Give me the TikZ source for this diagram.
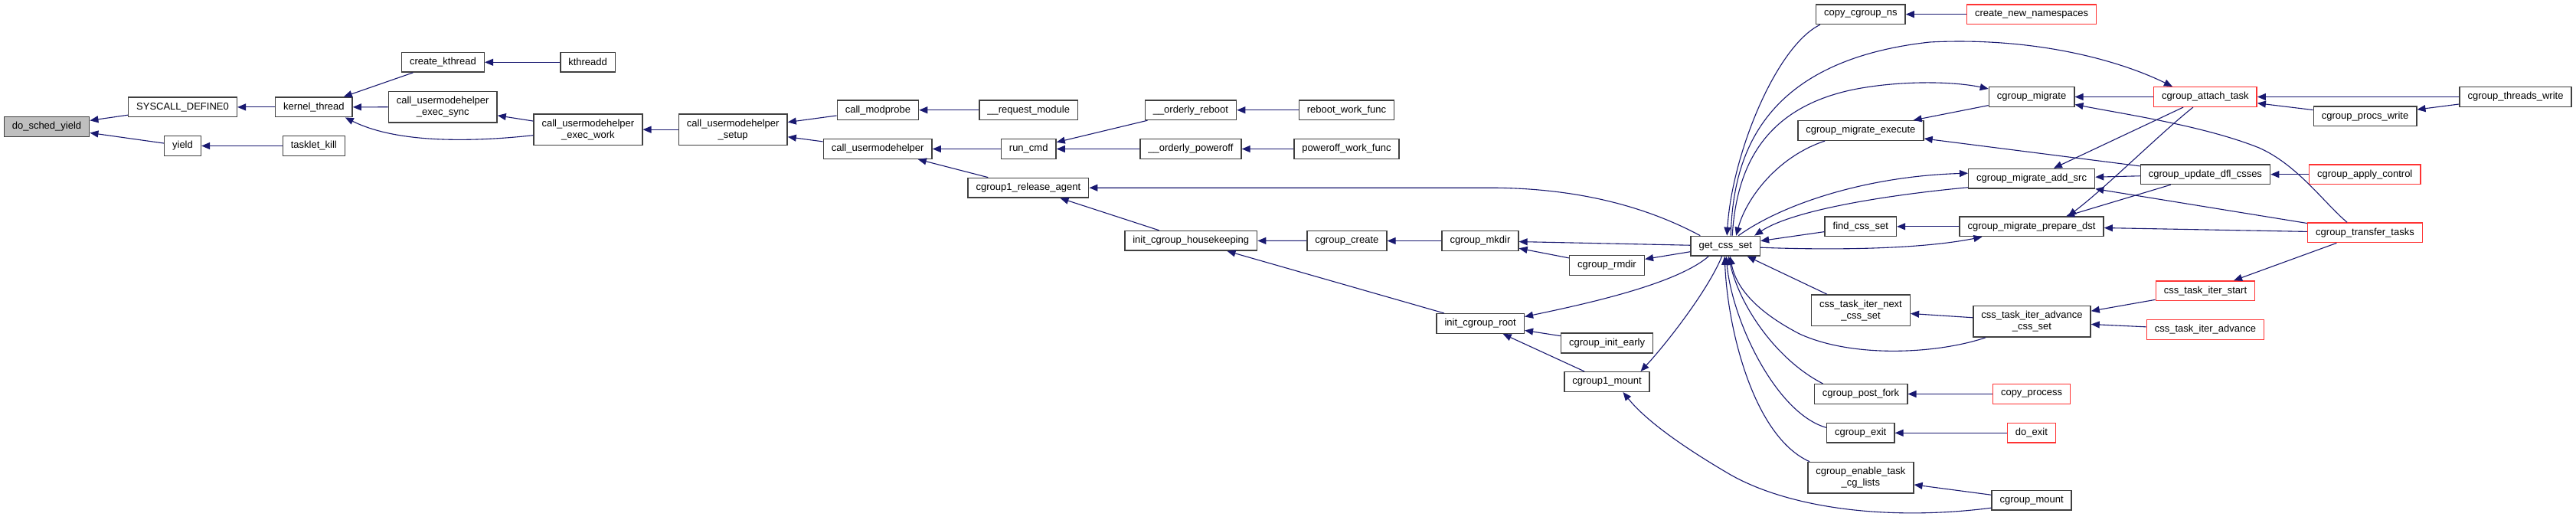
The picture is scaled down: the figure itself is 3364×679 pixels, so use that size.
\documentclass[tikz,border=0pt]{standalone}
\usepackage{fontspec}
\setmainfont{Liberation Sans}
\usepackage{tikz}
\usetikzlibrary{arrows.meta}
\definecolor{dxblue}{HTML}{191970}
\definecolor{dxred}{HTML}{FF3333}
\definecolor{dxgrey}{HTML}{404040}
\tikzset{
  fn/.style={draw=dxgrey, line width=1.5pt, fill=white, minimum height=25.6pt,
    inner xsep=10.5pt, inner ysep=3pt, align=center},
  fntwo/.style={fn, minimum height=40.5pt},
  fnred/.style={fn, draw=dxred},
  fnroot/.style={fn, fill=black!25},
  call/.style={draw=dxblue, line width=1.1pt, -{Triangle[length=11pt,width=9pt]}}
}

\begin{document}
\begin{tikzpicture}[x=1pt, y=-1pt, font=\fontsize{13}{15}\selectfont]
  \fill[white] (0,0) rectangle (3364,679);
  \useasboundingbox (0,0) rectangle (3364,679);

  \node[fnroot] (dsy) at (61,165.5) {do\_sched\_yield};
  \node[fn] (sysdef) at (238.5,139.9) {SYSCALL\_DEFINE0};
  \node[fn] (yield) at (238.5,190.5) {yield};
  \node[fn] (kthread) at (409.8,139.9) {kernel\_thread};
  \node[fn] (tkill) at (409.8,190.5) {tasklet\_kill};
  \node[fn] (ckthread) at (578.4,81.3) {create\_kthread};
  \node[fntwo] (esync) at (578.2,139.7) {call\_usermodehelper\\\_exec\_sync};
  \node[fn] (kthreadd) at (767.6,81.3) {kthreadd};
  \node[fntwo] (ework) at (767.9,169.2) {call\_usermodehelper\\\_exec\_work};
  \node[fntwo] (setup) at (957.2,169.2) {call\_usermodehelper\\\_setup};
  \node[fn] (modprobe) at (1146.4,143.7) {call\_modprobe};
  \node[fn] (reqmod) at (1343.2,143.7) {\_\_request\_module};
  \node[fn] (cuh) at (1146.2,194.5) {call\_usermodehelper};
  \node[fn] (runcmd) at (1343.2,194.5) {run\_cmd};
  \node[fn] (oreboot) at (1554.9,143.7) {\_\_orderly\_reboot};
  \node[fn] (opoweroff) at (1554.9,194.5) {\_\_orderly\_poweroff};
  \node[fn] (relagent) at (1342.9,245.2) {cgroup1\_release\_agent};
  \node[fn] (hkeep) at (1555.2,314.3) {init\_cgroup\_housekeeping};
  \node[fn] (rwf) at (1758.5,143.7) {reboot\_work\_func};
  \node[fn] (pwf) at (1758.5,194.5) {poweroff\_work\_func};
  \node[fn] (ccreate) at (1758.8,314.5) {cgroup\_create};
  \node[fn] (mkdir) at (1933,314.5) {cgroup\_mkdir};
  \node[fn] (rmdir) at (2098.5,346.5) {cgroup\_rmdir};
  \node[fn] (getcss) at (2253.2,321.2) {get\_css\_set};
  \node[fn] (initroot) at (1933.2,422.5) {init\_cgroup\_root};
  \node[fn] (initearly) at (2098.5,448) {cgroup\_init\_early};
  \node[fn] (c1mount) at (2098.5,498.5) {cgroup1\_mount};
  \node[fn] (copyns) at (2429.8,18.7) {copy\_cgroup\_ns};
  \node[fn] (mexec) at (2429.9,170.5) {cgroup\_migrate\_execute};
  \node[fn] (findcss) at (2429.8,295.8) {find\_css\_set};
  \node[fntwo] (nextcss) at (2430,405.2) {css\_task\_iter\_next\\\_css\_set};
  \node[fn] (postfork) at (2430,514.5) {cgroup\_post\_fork};
  \node[fn] (cexit) at (2429.7,565.3) {cgroup\_exit};
  \node[fntwo] (enablecg) at (2429.8,623.7) {cgroup\_enable\_task\\\_cg\_lists};
  \node[fnred] (newns) at (2653.1,18.7) {create\_new\_namespaces};
  \node[fn] (migrate) at (2653.1,126.5) {cgroup\_migrate};
  \node[fnred] (attach) at (2879.9,126.5) {cgroup\_attach\_task};
  \node[fn] (twrite) at (3285,126.5) {cgroup\_threads\_write};
  \node[fn] (pwrite) at (3088.5,151.8) {cgroup\_procs\_write};
  \node[fn] (addsrc) at (2653.1,233.2) {cgroup\_migrate\_add\_src};
  \node[fn] (updfl) at (2879.9,227.7) {cgroup\_update\_dfl\_csses};
  \node[fnred] (applyctl) at (3088.2,227.7) {cgroup\_apply\_control};
  \node[fn] (prepdst) at (2653.1,295.8) {cgroup\_migrate\_prepare\_dst};
  \node[fnred] (transfer) at (3088.5,303.8) {cgroup\_transfer\_tasks};
  \node[fnred] (itstart) at (2879.9,379.8) {css\_task\_iter\_start};
  \node[fntwo] (advcss) at (2653.4,419.8) {css\_task\_iter\_advance\\\_css\_set};
  \node[fnred] (itadv) at (2879.9,430.5) {css\_task\_iter\_advance};
  \node[fnred] (copyproc) at (2653.1,514.5) {copy\_process};
  \node[fnred] (doexit) at (2652.9,565.3) {do\_exit};
  \node[fn] (cmount) at (2653.1,653.2) {cgroup\_mount};

  \draw[call] (sysdef) -- (dsy);
  \draw[call] (yield) -- (dsy);
  \draw[call] (kthread) -- (sysdef);
  \draw[call] (tkill) -- (yield);
  \draw[call] (ckthread) -- (kthread);
  \draw[call] (esync) -- (kthread);
  \draw[call] ([yshift=-7.5pt]ework.west) .. controls (620,185) and (520,188) .. ([xshift=-10pt]kthread.south east);
  \draw[call] (kthreadd) -- (ckthread);
  \draw[call] (ework) -- (esync);
  \draw[call] (setup) -- (ework);
  \draw[call] (modprobe) -- (setup);
  \draw[call] (cuh) -- (setup);
  \draw[call] (reqmod) -- (modprobe);
  \draw[call] (runcmd) -- (cuh);
  \draw[call] (relagent) -- (cuh);
  \draw[call] (oreboot) -- (runcmd);
  \draw[call] (opoweroff) -- (runcmd);
  \draw[call] (rwf) -- (oreboot);
  \draw[call] (pwf) -- (opoweroff);
  \draw[call] (hkeep) -- (relagent);
  \draw[call] ([xshift=13pt]getcss.north west) .. controls (2150,270) and (2060,245.2) .. (1944,245.2) -- (relagent.east);
  \draw[call] (ccreate) -- (hkeep);
  \draw[call] (initroot) -- (hkeep);
  \draw[call] (mkdir) -- (ccreate);
  \draw[call] (getcss) -- (mkdir);
  \draw[call] (rmdir) -- (mkdir);
  \draw[call] (getcss) -- (rmdir);
  \draw[call] ([xshift=24pt]getcss.south west) .. controls (2190,370) and (2080,395) .. ([yshift=9pt]initroot.east);
  \draw[call] (initearly) -- (initroot);
  \draw[call] (c1mount) -- (initroot);
  \draw[call] ([xshift=-4.6pt]getcss.south) .. controls (2230,380) and (2175,450) .. ([xshift=44pt]c1mount.north);
  \draw[call] ([yshift=-10pt]cmount.west) .. controls (2470,680) and (2340,665) .. (2260,620)
    .. controls (2200,585) and (2150,550) .. ([xshift=21pt]c1mount.south);
  \draw[call] ([xshift=6pt]copyns.south west) .. controls (2320,60) and (2262,200) .. ([xshift=2pt]getcss.north);
  \draw[call] ([xshift=7pt]getcss.north) .. controls (2263,210) and (2295,80) .. (2520,55)
    .. controls (2660,48) and (2770,80) .. ([xshift=25pt]attach.north west);
  \draw[call] ([xshift=9pt]getcss.north) .. controls (2268,210) and (2310,140) .. (2420,117)
    .. controls (2480,105) and (2550,106) .. ([yshift=-3pt]migrate.north west);
  \draw[call] ([xshift=36pt]mexec.south west) .. controls (2320,205) and (2280,260) .. ([xshift=14pt]getcss.north);
  \draw[call] ([xshift=17pt]getcss.north) .. controls (2330,265) and (2440,230) .. ([yshift=7pt]addsrc.west);
  \draw[call] ([yshift=2pt]addsrc.south west) .. controls (2460,255) and (2340,275) .. ([xshift=-8pt]getcss.north east);
  \draw[call] (findcss) -- (getcss);
  \draw[call] ([yshift=-2pt]getcss.east) .. controls (2400,327) and (2510,325) .. ([xshift=30pt]prepdst.south west);
  \draw[call] (nextcss) -- (getcss);
  \draw[call] ([xshift=17pt]advcss.south west) .. controls (2530,462) and (2420,468) .. (2350,436)
    .. controls (2300,410) and (2268,380) .. ([xshift=6pt]getcss.south);
  \draw[call] ([xshift=12pt]postfork.north west) .. controls (2320,470) and (2272,400) .. ([xshift=4pt]getcss.south);
  \draw[call] ([yshift=7pt]cexit.west) .. controls (2320,540) and (2262,420) .. ([xshift=1pt]getcss.south);
  \draw[call] ([xshift=3pt]enablecg.north west) .. controls (2290,570) and (2256,430) .. ([xshift=-1pt]getcss.south);
  \draw[call] (newns) -- (copyns);
  \draw[call] (migrate) -- (mexec);
  \draw[call] (updfl) -- (mexec);
  \draw[call] (attach) -- (migrate);
  \draw[call] ([xshift=-23.5pt]transfer.north) .. controls (3035,265) and (3000,215) .. (2950,193)
    .. controls (2880,165) and (2780,150) .. ([yshift=-10pt]migrate.east);
  \draw[call] (twrite) -- (attach);
  \draw[call] (pwrite) -- (attach);
  \draw[call] (twrite) -- (pwrite);
  \draw[call] (attach) -- (addsrc);
  \draw[call] ([xshift=-16pt]attach.south) .. controls (2820,175) and (2750,245) .. ([xshift=47.5pt]prepdst.north);
  \draw[call] (updfl) -- (addsrc);
  \draw[call] (updfl) -- (prepdst);
  \draw[call] (applyctl) -- (updfl);
  \draw[call] (transfer) -- (addsrc);
  \draw[call] (transfer) -- (prepdst);
  \draw[call] (prepdst) -- (findcss);
  \draw[call] (transfer) -- (itstart);
  \draw[call] (itstart) -- (advcss);
  \draw[call] (itadv) -- (advcss);
  \draw[call] (advcss) -- (nextcss);
  \draw[call] (copyproc) -- (postfork);
  \draw[call] (doexit) -- (cexit);
  \draw[call] (cmount) -- (enablecg);
\end{tikzpicture}
\end{document}
